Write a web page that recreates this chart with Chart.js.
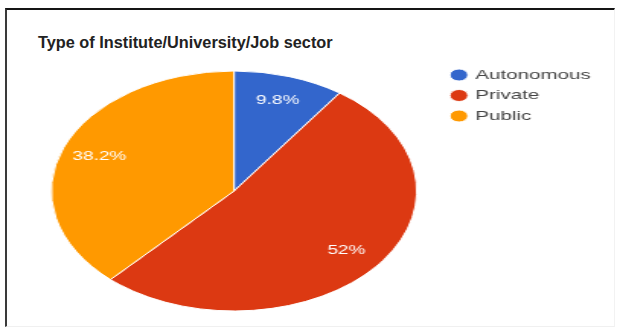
<!DOCTYPE html>
<html>
<head>
<meta charset="utf-8">
<title>Type of Institute/University/Job sector</title>
<script src="https://cdn.jsdelivr.net/npm/chart.js@4.4.1/dist/chart.umd.min.js"></script>
<style>
    html, body { margin: 0; padding: 0; background: #fff; }
    #wrap { position: relative; width: 620px; height: 329px; overflow: hidden; }
    #frame {
        position: absolute; left: 5px; top: 8px; width: 610px; height: 319px;
        box-sizing: border-box;
        border-top: 2px solid #151515; border-left: 2px solid #3a3a3a;
        border-right: 1px solid #f2f2f2; border-bottom: 1px solid #f0f0f0;
    }
    #chart-title {
        position: absolute; left: 38px; top: 34px; margin: 0;
        font: bold 16.3px/16px Arial, "Liberation Sans", sans-serif; color: #222;
        white-space: nowrap;
    }
    #sectorChart { position: absolute; left: 0; top: 0; }
</style>
</head>
<body>
<div id="wrap">
    <div id="frame"></div>
    <h2 id="chart-title">Type of Institute/University/Job sector</h2>
    <!-- laid out narrow, then stretched sideways like the exported image -->
    <canvas id="sectorChart" width="407" height="329" style="width:620px;height:329px"></canvas>
</div>
<script>
// --- Data ---
const sectorLabels = ['Autonomous', 'Private', 'Public'];
const sectorShares = [9.8, 52, 38.2];   // percent of respondents

const sliceColors = ['#3366cc', '#dc3912', '#ff9900'];

document.addEventListener('DOMContentLoaded', () => {
    const canvas = document.getElementById('sectorChart');

    Chart.defaults.font.family = 'Arial, "Liberation Sans", sans-serif';

    // --- Percent labels inside each slice ---
    const sliceLabels = {
        id: 'sliceLabels',
        afterDatasetsDraw(chart) {
            const ctx = chart.ctx;
            const meta = chart.getDatasetMeta(0);
            const values = chart.data.datasets[0].data;
            const total = values.reduce((a, b) => a + b, 0);
            ctx.save();
            ctx.fillStyle = '#ffffff';
            ctx.font = '12.5px Arial, "Liberation Sans", sans-serif';
            ctx.textAlign = 'center';
            ctx.textBaseline = 'middle';
            meta.data.forEach((arc, i) => {
                const { x, y, startAngle, endAngle, outerRadius } = arc.getProps(['x', 'y', 'startAngle', 'endAngle', 'outerRadius'], true);
                const mid = (startAngle + endAngle) / 2;
                const r = outerRadius * 0.79;
                const pct = Math.round(values[i] / total * 1000) / 10;
                ctx.fillText(pct + '%', x + Math.cos(mid) * r, y + Math.sin(mid) * r);
            });
            ctx.restore();
        }
    };

    new Chart(canvas.getContext('2d'), {
        type: 'pie',
        data: {
            labels: sectorLabels,
            datasets: [{
                data: sectorShares,
                backgroundColor: sliceColors,
                borderColor: '#ffffff',
                borderWidth: 1
            }]
        },
        options: {
            responsive: false,
            devicePixelRatio: 1,
            animation: false,
            radius: 120,
            layout: { padding: { left: 17, right: 9.2, top: 61.25, bottom: 8.25 } },
            plugins: {
                title: { display: false },
                tooltip: { enabled: false },
                legend: {
                    position: 'right',
                    align: 'start',
                    labels: {
                        usePointStyle: true,
                        pointStyle: 'circle',
                        boxWidth: 8,
                        boxHeight: 8.5,
                        padding: 7,
                        color: '#444',
                        font: { size: 13.5 }
                    }
                }
            }
        },
        plugins: [sliceLabels]
    });
});
</script>
</body>
</html>
